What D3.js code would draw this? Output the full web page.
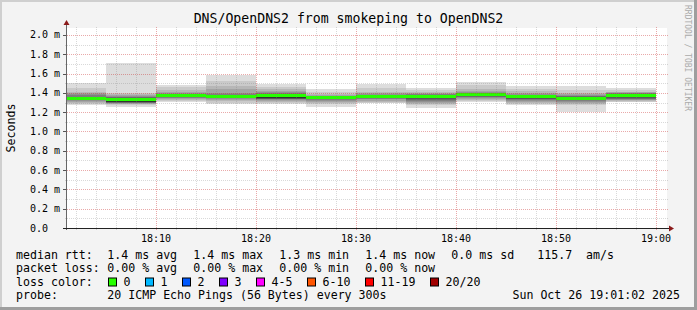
<!DOCTYPE html>
<html>
<head>
<meta charset="utf-8">
<script src="https://cdn.jsdelivr.net/npm/d3@7"></script>
<style>
  html, body { margin: 0; padding: 0; background: #f3f3f3; }
  svg { display: block; }
  text { font-family: "DejaVu Sans Mono", monospace; fill: #000; }
</style>
</head>
<body>
<svg id="chart" width="697" height="310"></svg>
<script>
// ── data (ms) ───────────────────────────────────────────
// 5 min steps, start time of each step
const segStarts = ['18:00','18:05','18:10','18:15','18:20','18:25','18:30','18:35','18:40','18:45','18:50','18:55'];
// median rtt per step
const medians = [1.34, 1.335, 1.368, 1.36, 1.37, 1.35, 1.365, 1.36, 1.38, 1.36, 1.345, 1.378];
// 20 sorted pings per step (smoke)
const pings = [
  [1.275,1.29,1.30,1.31,1.318,1.325,1.33,1.335,1.338,1.34,1.342,1.345,1.35,1.36,1.375,1.39,1.40,1.41,1.45,1.50],
  [1.255,1.27,1.28,1.29,1.295,1.298,1.30,1.302,1.305,1.31,1.345,1.348,1.35,1.355,1.36,1.37,1.38,1.39,1.40,1.71],
  [1.303,1.315,1.326,1.335,1.345,1.352,1.358,1.362,1.365,1.367,1.37,1.372,1.375,1.38,1.385,1.395,1.406,1.43,1.458,1.482],
  [1.28,1.30,1.315,1.326,1.335,1.342,1.348,1.352,1.355,1.357,1.36,1.362,1.365,1.37,1.385,1.40,1.437,1.468,1.523,1.585],
  [1.285,1.30,1.31,1.32,1.33,1.333,1.336,1.34,1.345,1.35,1.38,1.385,1.39,1.393,1.396,1.41,1.423,1.44,1.46,1.49],
  [1.257,1.28,1.30,1.31,1.32,1.33,1.335,1.34,1.343,1.346,1.35,1.353,1.356,1.36,1.365,1.37,1.38,1.39,1.41,1.437],
  [1.292,1.30,1.31,1.32,1.333,1.34,1.345,1.35,1.355,1.36,1.365,1.368,1.37,1.375,1.378,1.39,1.40,1.413,1.454,1.49],
  [1.247,1.27,1.29,1.30,1.31,1.32,1.33,1.34,1.345,1.35,1.365,1.37,1.375,1.38,1.385,1.39,1.40,1.413,1.43,1.448],
  [1.303,1.315,1.326,1.335,1.345,1.355,1.36,1.365,1.37,1.375,1.38,1.385,1.39,1.396,1.40,1.41,1.42,1.437,1.48,1.513],
  [1.275,1.29,1.30,1.31,1.32,1.33,1.335,1.34,1.345,1.35,1.36,1.365,1.37,1.375,1.38,1.39,1.40,1.415,1.437,1.475],
  [1.205,1.27,1.29,1.30,1.31,1.32,1.325,1.33,1.335,1.34,1.35,1.355,1.36,1.365,1.37,1.38,1.39,1.40,1.43,1.47],
  [1.303,1.31,1.32,1.326,1.33,1.335,1.34,1.35,1.36,1.37,1.38,1.383,1.386,1.39,1.395,1.40,1.405,1.413,1.435,1.45]
];

const yTicks = [0, 0.2, 0.4, 0.6, 0.8, 1.0, 1.2, 1.4, 1.6, 1.8, 2.0];
const xTickLabels = ['18:10', '18:20', '18:30', '18:40', '18:50', '19:00'];

const legendRtt  = ['1.4 ms avg', '1.4 ms max', '1.3 ms min', '1.4 ms now', '0.0 ms sd', '115.7', 'am/s'];
const legendLoss = ['0.00 % avg', '0.00 % max', '0.00 % min', '0.00 % now'];
const lossLabels = ['0', '1', '2', '3', '4-5', '6-10', '11-19', '20/20'];
const lossColors = ['#26ff00', '#00b8ff', '#0059ff', '#7e00ff', '#ff00ff', '#ff5500', '#ff0000', '#a10000'];

// ── layout ──────────────────────────────────────────────
const W = 697, H = 310;
const X0 = 67, X1 = 667, Y0 = 228, Y1 = 28;
const DAY = '2025-10-26T';
const parseT = s => new Date(DAY + s + (s.length === 5 ? ':00' : ''));
const t0 = parseT('18:01:06'), t1 = parseT('19:01:06');

const x = d3.scaleTime().domain([t0, t1]).range([X0, X1]);
const y = d3.scaleLinear().domain([0, 2.0725]).range([Y0, Y1]);

const svg = d3.select('#chart');

// background + 3D frame
svg.append('rect').attr('width', W).attr('height', H).attr('fill', '#f3f3f3');
svg.append('path').attr('d', `M0,0H${W}V2H2V${H}H0Z`).attr('fill', '#cfcfcf');
svg.append('path').attr('d', `M${W},0V${H}H0V${H-3}H${W-3}V0Z`).attr('fill', '#9e9e9e');

// canvas
svg.append('rect').attr('x', X0).attr('y', Y1).attr('width', X1 - X0).attr('height', Y0 - Y1).attr('fill', '#fff');

// smoke
svg.append('clipPath').attr('id', 'clip').append('rect')
  .attr('x', X0).attr('y', Y1).attr('width', X1 - X0).attr('height', Y0 - Y1);
const plot = svg.append('g').attr('clip-path', 'url(#clip)').attr('shape-rendering', 'crispEdges');

const STEP = 5 * 60 * 1000;
const half = 10;
segStarts.forEach((s, k) => {
  const ta = parseT(s), tb = new Date(+ta + STEP);
  const xa = Math.round(x(ta)), xb = Math.round(x(tb));
  const p = pings[k];
  for (let ibot = 1; ibot <= half; ibot++) {
    const c = Math.floor(190 / half * (half - ibot)) + 50;
    const top = y(p[20 - ibot]), bot = y(p[ibot - 1]);
    plot.append('rect')
      .attr('x', xa).attr('width', xb - xa)
      .attr('y', top).attr('height', Math.max(1, bot - top))
      .attr('fill', d3.rgb(c, c, c));
  }
  const ym = y(medians[k]);
  plot.append('rect')
    .attr('x', xa).attr('width', xb - xa)
    .attr('y', ym - 1.5).attr('height', 3)
    .attr('fill', lossColors[0]);
});

// grid (on top, like rrdtool)
const grid = svg.append('g').attr('shape-rendering', 'crispEdges');
const minorCol = 'rgba(128,128,128,0.3)';
const majorCol = 'rgba(200,40,40,0.4)';
// horizontal minor every 0.1
d3.range(0.1, 2.05, 0.2).forEach(v => {
  const yy = Math.round(y(v)) + 0.5;
  grid.append('line').attr('x1', X0 - 2).attr('x2', X1 + 2).attr('y1', yy).attr('y2', yy)
    .attr('stroke', minorCol).attr('stroke-dasharray', '1,1');
});
yTicks.forEach(v => {
  const yy = Math.round(y(v)) + 0.5;
  if (v > 0) grid.append('line').attr('x1', X0 - 2).attr('x2', X1 + 2).attr('y1', yy).attr('y2', yy)
    .attr('stroke', majorCol).attr('stroke-dasharray', '1,1');
  grid.append('line').attr('x1', X0 - 4).attr('x2', X0).attr('y1', yy).attr('y2', yy).attr('stroke', '#555');
});
// vertical minor every 2 min, major every 10 min
const minorT = d3.timeMinute.every(2).range(t0, t1);
minorT.forEach(t => {
  const major = t.getMinutes() % 10 === 0;
  const xx = Math.round(x(t)) + 0.5;
  grid.append('line').attr('x1', xx).attr('x2', xx).attr('y1', Y1 - 1).attr('y2', Y0 + 2)
    .attr('stroke', major ? majorCol : minorCol).attr('stroke-dasharray', '1,1');
});

// axes
svg.append('line').attr('x1', X0 - 0.5).attr('x2', X0 - 0.5).attr('y1', Y0 + 2).attr('y2', Y1 - 5)
  .attr('stroke', '#666');
svg.append('line').attr('x1', X0 - 4).attr('x2', X1 + 3).attr('y1', Y0 + 0.5).attr('y2', Y0 + 0.5)
  .attr('stroke', '#222');
svg.append('path').attr('d', `M${X0 - 3.5},${Y1 - 3}L${X0 - 0.5},${Y1 - 8}L${X0 + 2.5},${Y1 - 3}Z`).attr('fill', '#8b1a1a');
svg.append('path').attr('d', `M${X1 + 2},${Y0 - 2.5}L${X1 + 7},${Y0 + 0.5}L${X1 + 2},${Y0 + 3.5}Z`).attr('fill', '#8b1a1a');

// y labels
svg.append('g').selectAll('text').data(yTicks).join('text')
  .attr('x', 30).attr('y', d => y(d) + 3.5)
  .attr('font-size', 10)
  .text(d => d === 0 ? '0.0' : d.toFixed(1) + ' m');

// x labels
svg.append('g').selectAll('text').data(xTickLabels).join('text')
  .attr('x', d => x(parseT(d))).attr('y', 242)
  .attr('text-anchor', 'middle').attr('font-size', 10)
  .text(d => d);

// title
svg.append('text').attr('x', W / 2).attr('y', 23).attr('text-anchor', 'middle')
  .attr('font-size', 13.2).text('DNS/OpenDNS2 from smokeping to OpenDNS2');

// y title
svg.append('text').attr('transform', `translate(15,${(Y0 + Y1) / 2}) rotate(-90)`)
  .attr('text-anchor', 'middle').attr('font-size', 11.6).text('Seconds');

// watermark
svg.append('text').attr('transform', 'translate(685,5) rotate(90)')
  .attr('font-size', 8).style('fill', '#aaa').text('RRDTOOL / TOBI OETIKER');

// legend
const LX = 16, VX = 107.3, COL = 86, FS = 11.6;
const rows = [258.5, 272, 285.5, 299];
const leg = svg.append('g').attr('font-size', FS);
leg.append('text').attr('x', LX).attr('y', rows[0]).text('median rtt:');
legendRtt.forEach((s, i) => leg.append('text')
  .attr('x', i < 6 ? VX + i * COL : 586).attr('y', rows[0]).text(s));
leg.append('text').attr('x', LX).attr('y', rows[1]).text('packet loss:');
legendLoss.forEach((s, i) => leg.append('text').attr('x', VX + i * COL).attr('y', rows[1]).text(s));
leg.append('text').attr('x', LX).attr('y', rows[2]).text('loss color:');
let lx = 108.5;
lossLabels.forEach((s, i) => {
  leg.append('rect').attr('x', lx).attr('y', rows[2] - 7.5).attr('width', 8).attr('height', 8)
    .attr('fill', lossColors[i]).attr('stroke', '#000').attr('stroke-width', 1);
  leg.append('text').attr('x', lx + 15).attr('y', rows[2]).text(s);
  lx += 15 + s.length * 7 + 15;
});
leg.append('text').attr('x', LX).attr('y', rows[3]).text('probe:');
leg.append('text').attr('x', VX).attr('y', rows[3]).text('20 ICMP Echo Pings (56 Bytes) every 300s');
leg.append('text').attr('x', 680).attr('y', rows[3]).attr('text-anchor', 'end').text('Sun Oct 26 19:01:02 2025');
</script>
</body>
</html>
